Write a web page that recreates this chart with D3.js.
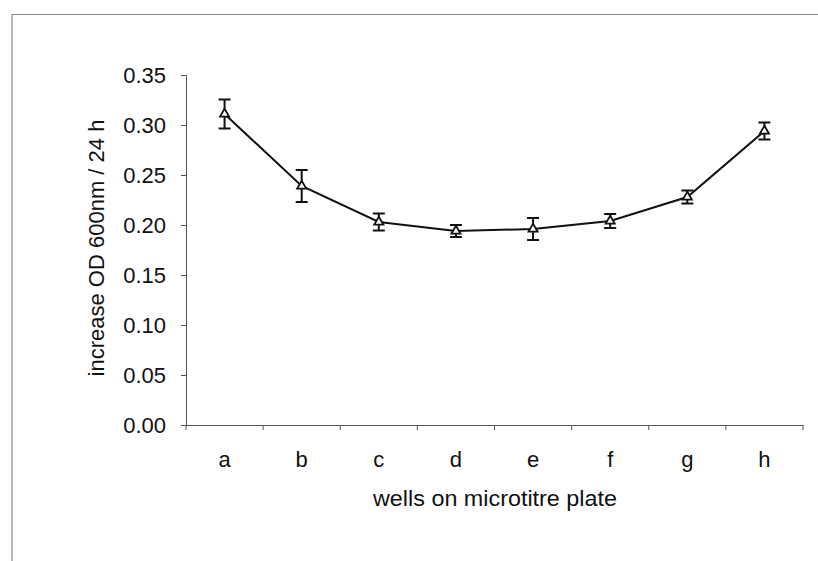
<!DOCTYPE html>
<html><head><meta charset="utf-8">
<script src="https://cdn.jsdelivr.net/npm/d3@7"></script>
<style>body{margin:0;background:#fff}svg{display:block}text{font-family:"Liberation Sans",Arial,sans-serif;fill:#111}</style>
</head><body><svg id="c" width="818" height="561"></svg>
<script>
const categories = ["a","b","c","d","e","f","g","h"];
const values = [0.311, 0.239, 0.203, 0.194, 0.196, 0.204, 0.228, 0.294];
const errors = [0.0145, 0.016, 0.0085, 0.006, 0.011, 0.007, 0.0065, 0.0085];
const yTicks = [0, 0.05, 0.10, 0.15, 0.20, 0.25, 0.30, 0.35];
const xTitle = "wells on microtitre plate";
const yTitle = "increase OD 600nm / 24 h";

const svg = d3.select("#c");
const L = 186, R = 803, T = 75, B = 425;
const FS = 22;
svg.append("path").attr("d","M12,561V14.5H818").attr("fill","none").attr("stroke","#888").attr("stroke-width",1.2);

const x = d3.scaleBand().domain(categories).range([L, R]).padding(0);
const y = d3.scaleLinear().domain([0, 0.35]).range([B, T]);

const ya = svg.append("g").attr("transform",`translate(${L},0)`)
  .call(d3.axisLeft(y).tickValues(yTicks).tickFormat(d3.format(".2f")).tickSizeOuter(0).tickSize(5).tickPadding(15));
ya.select(".domain").attr("stroke","#555");
ya.selectAll(".tick line").attr("stroke","#555");
ya.selectAll("text").attr("font-size",FS).attr("dy","0.36em");

const xa = svg.append("g").attr("transform",`translate(0,${B})`)
  .call(d3.axisBottom(x).tickSize(0).tickSizeOuter(0));
xa.select(".domain").attr("stroke","#555");
xa.selectAll("text").attr("font-size",FS).attr("y",42).attr("dy",0);
const bounds = categories.map(c => x(c)).concat([x(categories[categories.length-1]) + x.bandwidth()]);
svg.append("g").selectAll("line").data(bounds).join("line")
  .attr("x1",d=>d).attr("x2",d=>d).attr("y1",B).attr("y2",B+5).attr("stroke","#555");

svg.append("text").attr("x",495).attr("y",506).attr("text-anchor","middle").attr("font-size",FS)
  .attr("textLength",244).attr("lengthAdjust","spacingAndGlyphs").text(xTitle);
svg.append("text").attr("transform","translate(104,248) rotate(-90)").attr("text-anchor","middle").attr("font-size",FS)
  .text(yTitle);

const pts = categories.map((c,i)=>({x: x(c)+x.bandwidth()/2, v: values[i], e: errors[i]}));
svg.append("path").datum(pts)
  .attr("d", d3.line().x(d=>d.x).y(d=>y(d.v)))
  .attr("fill","none").attr("stroke","#111").attr("stroke-width",2);

const eb = svg.append("g").attr("stroke","#111").attr("stroke-width",2);
pts.forEach(d=>{
  eb.append("line").attr("x1",d.x).attr("x2",d.x).attr("y1",y(d.v+d.e)).attr("y2",y(d.v-d.e));
  eb.append("line").attr("x1",d.x-6).attr("x2",d.x+6).attr("y1",y(d.v+d.e)).attr("y2",y(d.v+d.e));
  eb.append("line").attr("x1",d.x-6).attr("x2",d.x+6).attr("y1",y(d.v-d.e)).attr("y2",y(d.v-d.e));
});
svg.append("g").selectAll("path").data(pts).join("path")
  .attr("transform",d=>`translate(${d.x},${y(d.v)})`)
  .attr("d", d3.symbol(d3.symbolTriangle, 36))
  .attr("fill","#fff").attr("stroke","#111").attr("stroke-width",1.8);
</script></body></html>
